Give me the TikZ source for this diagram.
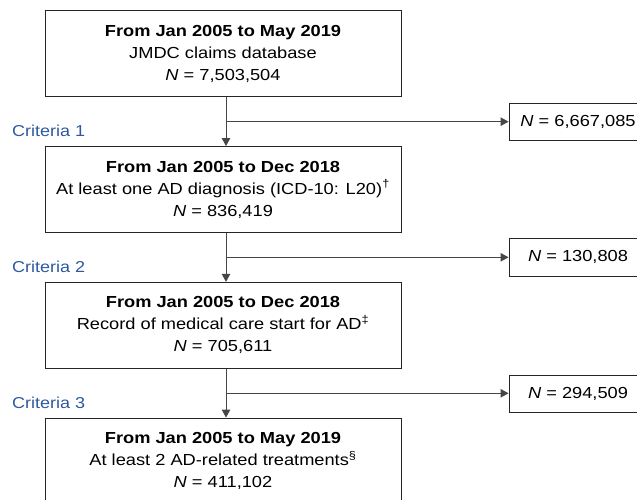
\documentclass[tikz,border=0pt]{standalone}
\usepackage{fontspec}
\setmainfont[FakeStretch=1.14]{Liberation Sans}
\usetikzlibrary{arrows.meta}
\definecolor{critblue}{RGB}{46,88,160}
\definecolor{linegray}{RGB}{70,70,70}
\tikzset{
  mainbox/.style={draw=black!85, line width=0.9pt, minimum width=356pt, minimum height=86pt,
    inner sep=0pt, align=center, font=\fontsize{16}{22}\selectfont},
  sidebox/.style={draw=black!85, line width=0.9pt, minimum width=138pt, minimum height=37.5pt,
    inner sep=0pt, align=center, font=\fontsize{16}{22}\selectfont},
  crit/.style={text=critblue, anchor=west, inner sep=0pt, font=\fontsize{15.8}{20}\selectfont},
  conn/.style={draw=linegray, line width=0.9pt},
  arr/.style={conn, -{Triangle[length=8pt,width=8.5pt]}}
}
\begin{document}
\begin{tikzpicture}[x=1pt,y=-1pt]
\useasboundingbox (0,0) rectangle (637,500);
\clip (0,0) rectangle (637,500);
\node[mainbox] (b1) at (223,53.8) {\textbf{From Jan 2005 to May 2019}\\JMDC claims database\\\textit{N} = 7,503,504};
\node[mainbox] (b2) at (223,189.5) {\textbf{From Jan 2005 to Dec 2018}\\At least one AD diagnosis (ICD-10: L20)\textsuperscript{†}\\\textit{N} = 836,419};
\node[mainbox] (b3) at (223,325.3) {\textbf{From Jan 2005 to Dec 2018}\\Record of medical care start for AD\textsuperscript{‡}\\\textit{N} = 705,611};
\node[mainbox] (b4) at (223,461) {\textbf{From Jan 2005 to May 2019}\\At least 2 AD-related treatments\textsuperscript{§}\\\textit{N} = 411,102};
\node[sidebox] (s1) at (578,122) {\textit{N} = 6,667,085};
\node[sidebox] (s2) at (578,257.2) {\textit{N} = 130,808};
\node[sidebox] (s3) at (578,393.7) {\textit{N} = 294,509};
\node[crit] (c1) at (12,130.5) {Criteria 1};
\node[crit] (c2) at (12,267) {Criteria 2};
\node[crit] (c3) at (12,403) {Criteria 3};
\coordinate (vx) at (226,0);
\coordinate (j1) at (226,121.7);
\coordinate (j2) at (226,257.3);
\coordinate (j3) at (226,393.3);
\draw[arr] (b1.south -| vx) -- (b2.north -| vx);
\draw[arr] (b2.south -| vx) -- (b3.north -| vx);
\draw[arr] (b3.south -| vx) -- (b4.north -| vx);
\draw[arr] (j1) -- (j1 -| s1.west);
\draw[arr] (j2) -- (j2 -| s2.west);
\draw[arr] (j3) -- (j3 -| s3.west);
\end{tikzpicture}
\end{document}
